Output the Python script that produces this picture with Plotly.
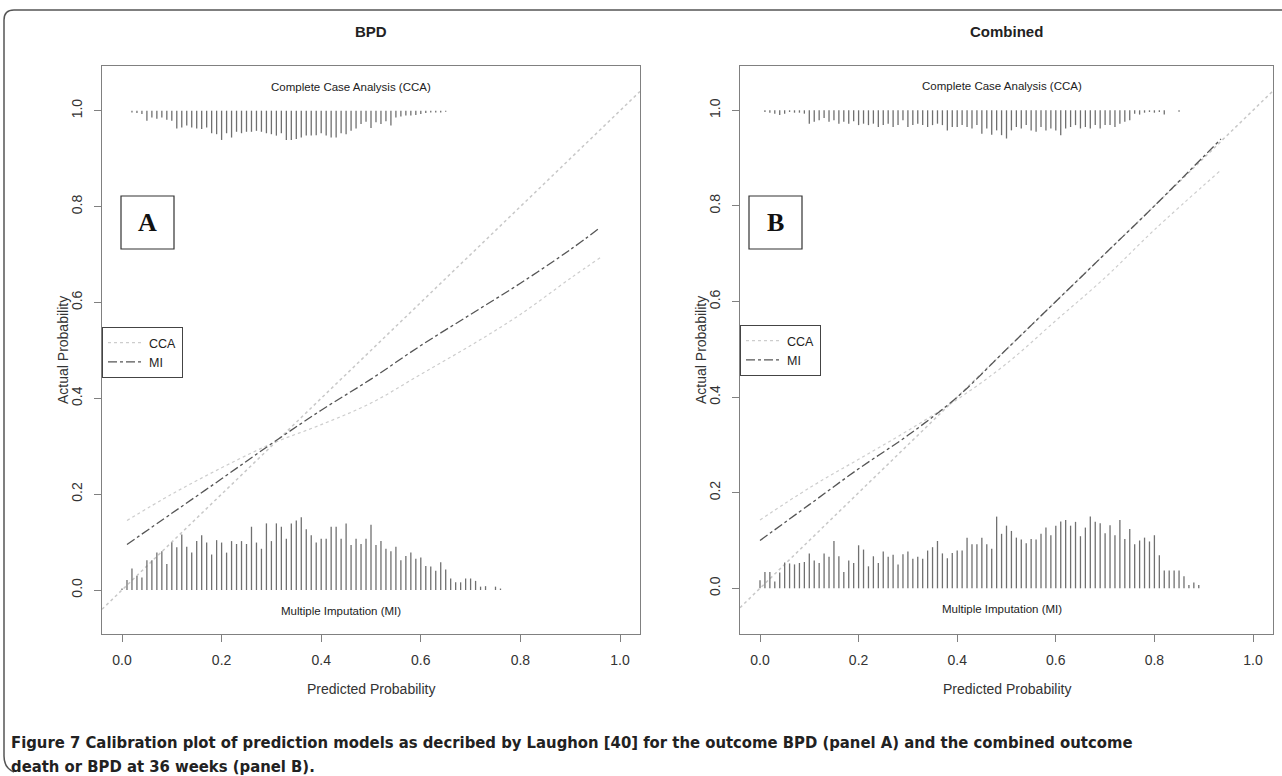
import plotly.graph_objects as go

W, H = 1282, 776

# ---------------- data ----------------
# Panel A (BPD)
A_mi_bin_start = 0.00
A_mi_heights = [0.003,0.021,0.045,0.029,0.026,0.062,0.062,0.078,0.081,0.054,
                0.099,0.089,0.116,0.090,0.078,0.102,0.114,0.099,0.074,0.104,
                0.099,0.078,0.102,0.096,0.102,0.096,0.132,0.099,0.086,0.139,
                0.102,0.139,0.132,0.107,0.139,0.145,0.152,0.127,0.114,0.099,
                0.107,0.107,0.132,0.132,0.107,0.139,0.094,0.107,0.096,0.107,
                0.136,0.094,0.102,0.086,0.081,0.090,0.062,0.071,0.078,0.065,
                0.068,0.050,0.049,0.040,0.058,0.043,0.024,0.016,0.016,0.024,
                0.024,0.019,0.007,0.008,0.0,0.007,0.003]
A_cca_bin_start = 0.02
A_cca_depths = [.0035,.005,.007,.021,.014,.017,.014,.019,.021,.037,
                .035,.031,.035,.037,.038,.035,.047,.049,.061,.047,
                .056,.044,.047,.044,.044,.042,.044,.047,.049,.052,
                .047,.061,.061,.059,.056,.052,.052,.051,.047,.052,
                .056,.056,.047,.049,.042,.037,.028,.023,.036,.024,
                .028,.022,.031,.014,.012,.010,.010,.009,.007,.005,
                .0035,.0035,.0035,.002]
A_cca_curve_x = [0.01, 0.10, 0.20, 0.30, 0.40, 0.50, 0.60, 0.70, 0.80, 0.90, 0.96]
A_cca_curve_y = [0.145, 0.20, 0.255, 0.305, 0.345, 0.39, 0.45, 0.51, 0.575, 0.65, 0.693]
A_mi_curve_x = [0.01, 0.10, 0.20, 0.30, 0.40, 0.50, 0.60, 0.70, 0.80, 0.90, 0.96]
A_mi_curve_y = [0.095, 0.16, 0.232, 0.305, 0.375, 0.44, 0.51, 0.575, 0.64, 0.71, 0.756]

# Panel B (Combined)
B_mi_bin_start = 0.00
B_mi_heights = [0.017,0.034,0.034,0.014,0.033,0.054,0.052,0.050,0.053,0.055,
                0.073,0.058,0.053,0.073,0.066,0.099,0.067,0.034,0.058,0.053,
                0.090,0.081,0.046,0.067,0.053,0.077,0.066,0.070,0.050,0.071,
                0.077,0.062,0.066,0.062,0.079,0.086,0.099,0.073,0.063,0.074,
                0.079,0.079,0.106,0.092,0.092,0.106,0.092,0.083,0.150,0.114,
                0.131,0.120,0.106,0.102,0.094,0.103,0.102,0.114,0.127,0.111,
                0.131,0.140,0.143,0.131,0.139,0.109,0.127,0.150,0.139,0.136,
                0.115,0.132,0.111,0.143,0.103,0.124,0.092,0.100,0.106,0.098,
                0.111,0.069,0.037,0.037,0.037,0.037,0.025,0.007,0.012,0.007]
B_cca_bin_start = 0.01
B_cca_depths = [.0035,.005,.007,.010,.007,.0035,.005,.005,.007,.028,
                .024,.021,.016,.024,.021,.028,.024,.028,.023,.031,
                .028,.031,.028,.035,.031,.028,.035,.031,.021,.035,
                .031,.028,.031,.035,.031,.028,.031,.042,.035,.035,
                .031,.035,.038,.031,.049,.038,.051,.042,.052,.059,
                .042,.035,.038,.031,.042,.045,.035,.042,.038,.042,
                .052,.038,.035,.031,.038,.035,.038,.031,.038,.031,
                .031,.035,.028,.024,.021,.007,.009,.005,.0035,.005,
                .0035,.009,0.0,0.0,.003]
B_cca_curve_x = [0.0, 0.10, 0.20, 0.30, 0.40, 0.50, 0.60, 0.70, 0.80, 0.935]
B_cca_curve_y = [0.143, 0.21, 0.27, 0.33, 0.395, 0.47, 0.56, 0.65, 0.75, 0.875]
B_mi_curve_x = [0.0, 0.10, 0.20, 0.30, 0.40, 0.50, 0.60, 0.70, 0.80, 0.935]
B_mi_curve_y = [0.10, 0.175, 0.25, 0.32, 0.40, 0.50, 0.60, 0.70, 0.80, 0.94]

tick_vals = [0.0, 0.2, 0.4, 0.6, 0.8, 1.0]
tick_text = ["0.0", "0.2", "0.4", "0.6", "0.8", "1.0"]
panel_titles = ["BPD", "Combined"]
panel_letters = ["A", "B"]
caption_l1 = ("<b>Figure 7 Calibration plot of prediction models as decribed by Laughon [40] "
              "for the outcome BPD (panel A) and the combined outcome</b>")
caption_l2 = "<b>death or BPD at 36 weeks (panel B).</b>"

# ---------------- helpers ----------------
def px(x):
    return x / W

def py(y):
    return 1 - y / H

def spikes(start, step, vals, base, sign):
    xs, ys = [], []
    for i, v in enumerate(vals):
        if v <= 0:
            continue
        x = round(start + i * step, 4)
        xs += [x, x, None]
        ys += [base, base + sign * v, None]
    return xs, ys

SANS = "Liberation Sans, Arial, sans-serif"
fig = go.Figure()

panels = [
    dict(xa="x", ya="y", xd=[102, 640], x0=122, x1=620, y0=590, y1=110.7,
         mi=(A_mi_bin_start, A_mi_heights), cca=(A_cca_bin_start, A_cca_depths),
         ccac=(A_cca_curve_x, A_cca_curve_y), mic=(A_mi_curve_x, A_mi_curve_y),
         legend="legend", txt_cca=0.46, txt_mi=0.44),
    dict(xa="x2", ya="y2", xd=[740, 1273], x0=760, x1=1253, y0=588.3, y1=110.3,
         mi=(B_mi_bin_start, B_mi_heights), cca=(B_cca_bin_start, B_cca_depths),
         ccac=(B_cca_curve_x, B_cca_curve_y), mic=(B_mi_curve_x, B_mi_curve_y),
         legend="legend2", txt_cca=0.49, txt_mi=0.49),
]
top_px, bot_px = 66, 634

layout_axes = {}
annotations = []
shapes = []
for k, p in enumerate(panels):
    ux = (p["x1"] - p["x0"])
    uy = (p["y0"] - p["y1"])
    xr = [(p["xd"][0] - p["x0"]) / ux, (p["xd"][1] - p["x0"]) / ux]
    yr = [-(bot_px - p["y0"]) / uy, (p["y0"] - top_px) / uy]
    # diagonal reference line across the plot
    fig.add_trace(go.Scatter(x=xr, y=xr, mode="lines", xaxis=p["xa"], yaxis=p["ya"],
                             line=dict(color="#c8c8c8", width=1.5, dash="dot"),
                             showlegend=False, hoverinfo="skip"))
    # histograms
    sx, sy = spikes(p["mi"][0], 0.01, p["mi"][1], 0.0, 1)
    fig.add_trace(go.Scatter(x=sx, y=sy, mode="lines", xaxis=p["xa"], yaxis=p["ya"],
                             line=dict(color="#707070", width=1.3), showlegend=False,
                             hoverinfo="skip"))
    sx, sy = spikes(p["cca"][0], 0.01, p["cca"][1], 1.0, -1)
    fig.add_trace(go.Scatter(x=sx, y=sy, mode="lines", xaxis=p["xa"], yaxis=p["ya"],
                             line=dict(color="#707070", width=1.3), showlegend=False,
                             hoverinfo="skip"))
    # curves
    fig.add_trace(go.Scatter(x=p["ccac"][0], y=p["ccac"][1], mode="lines", name="CCA",
                             xaxis=p["xa"], yaxis=p["ya"], line_shape="spline",
                             line=dict(color="#cdcdcd", width=1.2, dash="dot"),
                             legend=p["legend"]))
    fig.add_trace(go.Scatter(x=p["mic"][0], y=p["mic"][1], mode="lines", name="MI",
                             xaxis=p["xa"], yaxis=p["ya"], line_shape="spline",
                             line=dict(color="#555555", width=1.3, dash="dashdot"),
                             legend=p["legend"]))
    sfx = "" if k == 0 else "2"
    common = dict(showgrid=False, zeroline=False, showline=True, mirror=True,
                  linecolor="#808080", linewidth=1, ticks="outside", ticklen=7,
                  tickcolor="#808080", tickvals=tick_vals, ticktext=tick_text,
                  tickfont=dict(family=SANS, size=14, color="#333"))
    layout_axes["xaxis" + sfx] = dict(common, domain=[px(p["xd"][0]), px(p["xd"][1])],
                                      range=xr, anchor="y" + sfx, ticklabelstandoff=6)
    layout_axes["yaxis" + sfx] = dict(common, domain=[py(bot_px), py(top_px)],
                                      range=yr, anchor="x" + sfx, tickangle=-90,
                                      ticklabelstandoff=6)
    cx = (p["xd"][0] + p["xd"][1]) / 2
    xa, ya = p["xa"], p["ya"]
    # in-plot texts
    annotations.append(dict(x=p["txt_cca"], y=1.05, xref=xa, yref=ya, showarrow=False,
                            xanchor="center", yanchor="middle",
                            text="Complete Case Analysis (CCA)",
                            font=dict(family=SANS, size=11.5, color="#222")))
    annotations.append(dict(x=p["txt_mi"], y=-0.043, xref=xa, yref=ya, showarrow=False,
                            xanchor="center", yanchor="middle",
                            text="Multiple Imputation (MI)",
                            font=dict(family=SANS, size=11.5, color="#222")))
    # titles
    annotations.append(dict(x=px(cx), y=py(32), xref="paper", yref="paper", showarrow=False,
                            xanchor="center", yanchor="middle",
                            text="<b>" + panel_titles[k] + "</b>",
                            font=dict(family=SANS, size=15, color="#222")))
    annotations.append(dict(x=px(cx), y=py(689), xref="paper", yref="paper", showarrow=False,
                            xanchor="center", yanchor="middle",
                            text="Predicted Probability",
                            font=dict(family=SANS, size=14, color="#333")))
    annotations.append(dict(x=px(p["xd"][0] - 39), y=py(350), xref="paper", yref="paper",
                            showarrow=False, textangle=-90, xanchor="center", yanchor="middle",
                            text="Actual Probability",
                            font=dict(family=SANS, size=14, color="#333")))
    # panel letter box
    bx0 = p["xd"][0] + (19 if k == 0 else 9)
    shapes.append(dict(type="rect", xref="paper", yref="paper", x0=px(bx0), x1=px(bx0 + 53),
                       y0=py(249), y1=py(196), line=dict(color="#333", width=1.2),
                       fillcolor="white", layer="above"))
    annotations.append(dict(x=px(bx0 + 26.5), y=py(223), xref="paper", yref="paper",
                            showarrow=False, xanchor="center", yanchor="middle",
                            text="<b>" + panel_letters[k] + "</b>",
                            font=dict(family="Liberation Serif, Times New Roman, serif",
                                      size=26, color="#111")))

legend_common = dict(bgcolor="white", bordercolor="#444", borderwidth=1,
                     font=dict(family=SANS, size=12.5, color="#222"),
                     xanchor="left", yanchor="top", itemwidth=36, tracegroupgap=0,
                     itemclick=False, itemdoubleclick=False, entrywidth=36)

# outer frame (rounded left corners)
r = 10
frame = (f"M {px(1290)},{py(10)} L {px(4 + r)},{py(10)} "
         f"Q {px(4)},{py(10)} {px(4)},{py(10 + r)} "
         f"L {px(4)},{py(766 - r)} Q {px(4)},{py(768)} {px(4 + r)},{py(772)}")
shapes.append(dict(type="path", xref="paper", yref="paper", path=frame,
                   line=dict(color="#555", width=1.5)))

CAP = "DejaVu Sans Condensed, Liberation Sans Narrow, Arial Narrow, sans-serif"
annotations.append(dict(x=px(9), y=py(742), xref="paper", yref="paper", showarrow=False,
                        xanchor="left", yanchor="middle", text=caption_l1,
                        font=dict(family=CAP, size=16.5, color="#222")))
annotations.append(dict(x=px(9), y=py(766), xref="paper", yref="paper", showarrow=False,
                        xanchor="left", yanchor="middle", text=caption_l2,
                        font=dict(family=CAP, size=16.5, color="#222")))

fig.update_layout(
    width=W, height=H, margin=dict(l=0, r=0, t=0, b=0),
    paper_bgcolor="white", plot_bgcolor="white",
    showlegend=True, hovermode=False,
    legend=dict(legend_common, x=px(102), y=py(327)),
    legend2=dict(legend_common, x=px(740), y=py(325)),
    annotations=annotations, shapes=shapes,
    **layout_axes,
)

fig.write_html("out.html", config={"displayModeBar": False, "staticPlot": False},
               post_script="document.body.style.margin='0';document.body.style.overflow='hidden';")
